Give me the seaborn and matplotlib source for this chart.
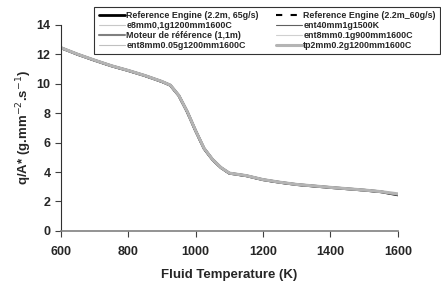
import numpy as np
import pandas as pd
import seaborn as sns
import matplotlib.pyplot as plt

# fluid temperature (K) and q/A* for each run
temp = [600, 650, 700, 750, 800, 850, 900, 925, 950, 975, 1000, 1025, 1050,
        1075, 1100, 1150, 1200, 1250, 1300, 1350, 1400, 1450, 1500, 1550, 1600]

ref_65 = [12.45, 12.00, 11.60, 11.22, 10.90, 10.55, 10.15, 9.90, 9.20, 8.10, 6.80, 5.60,
          4.85, 4.30, 3.92, 3.75, 3.48, 3.30, 3.15, 3.05, 2.95, 2.86, 2.77, 2.66, 2.45]
ref_60 = [12.44, 11.99, 11.59, 11.21, 10.89, 10.54, 10.14, 9.88, 9.18, 8.08, 6.78, 5.58,
          4.84, 4.29, 3.91, 3.74, 3.47, 3.29, 3.14, 3.04, 2.94, 2.85, 2.76, 2.65, 2.47]
e8_01 = [12.47, 12.02, 11.62, 11.24, 10.92, 10.57, 10.17, 9.92, 9.23, 8.13, 6.83, 5.63,
         4.88, 4.32, 3.94, 3.77, 3.50, 3.32, 3.17, 3.07, 2.97, 2.88, 2.79, 2.68, 2.50]
ent40 = [12.46, 12.01, 11.61, 11.23, 10.91, 10.56, 10.16, 9.91, 9.21, 8.11, 6.81, 5.61,
         4.86, 4.31, 3.93, 3.76, 3.49, 3.31, 3.16, 3.06, 2.96, 2.87, 2.78, 2.67, 2.48]
moteur = [12.43, 11.98, 11.58, 11.20, 10.88, 10.53, 10.13, 9.89, 9.22, 8.14, 6.84, 5.64,
          4.89, 4.33, 3.90, 3.73, 3.46, 3.28, 3.13, 3.03, 2.93, 2.84, 2.75, 2.64, 2.46]
ent8_01 = [12.46, 12.01, 11.61, 11.23, 10.91, 10.56, 10.16, 9.91, 9.21, 8.11, 6.81, 5.61,
           4.86, 4.31, 3.93, 3.76, 3.49, 3.31, 3.16, 3.06, 2.96, 2.87, 2.78, 2.67, 2.50]
ent8_005 = [12.47, 12.02, 11.62, 11.24, 10.92, 10.57, 10.17, 9.92, 9.22, 8.12, 6.82, 5.62,
            4.87, 4.32, 3.94, 3.77, 3.50, 3.32, 3.17, 3.07, 2.97, 2.88, 2.79, 2.68, 2.51]
tp2 = [12.46, 12.01, 11.61, 11.23, 10.91, 10.56, 10.16, 9.91, 9.21, 8.11, 6.81, 5.61,
       4.86, 4.31, 3.93, 3.76, 3.49, 3.31, 3.16, 3.06, 2.96, 2.87, 2.78, 2.67, 2.52]

labels = ['Reference Engine (2.2m, 65g/s)', 'Reference Engine (2.2m_60g/s)',
          'e8mm0,1g1200mm1600C', 'ent40mm1g1500K',
          'Moteur de référence (1,1m)', 'ent8mm0.1g900mm1600C',
          'ent8mm0.05g1200mm1600C', 'tp2mm0.2g1200mm1600C']
series = [ref_65, ref_60, e8_01, ent40, moteur, ent8_01, ent8_005, tp2]
colors = ['black', 'black', '#c8c8c8', '#606060', '#808080', '#d0d0d0', '#c0c0c0', '#b4b4b4']
widths = [2.0, 1.5, 0.8, 0.8, 1.5, 0.8, 0.8, 2.2]
styles = ['-', (0, (3, 4)), '-', '-', '-', '-', '-', '-']

sns.set_style("ticks")
plt.rcParams['font.family'] = ['Liberation Sans', 'DejaVu Sans']

fig = plt.figure(figsize=(4.41, 2.84), dpi=100)
ax = fig.add_axes([0.138, 0.187, 0.764, 0.725])

df = pd.DataFrame({'temp': temp})
for lab, ys, c, w, ls in zip(labels, series, colors, widths, styles):
    df[lab] = ys
    sns.lineplot(data=df, x='temp', y=lab, ax=ax, color=c, linewidth=w,
                 linestyle=ls, label=lab, legend=False)

ax.set_xlim(600, 1600)
ax.set_ylim(0, 14)
ax.set_xticks(range(600, 1601, 200))
ax.set_yticks(range(0, 15, 2))
ax.tick_params(labelsize=9, length=4, width=0.8, color='#404040')
ax.tick_params(axis='x', pad=7)
for t in ax.get_xticklabels() + ax.get_yticklabels():
    t.set_fontweight('bold')
ax.set_xlabel('Fluid Temperature (K)', fontsize=9.5, fontweight='bold', labelpad=8)
ax.set_ylabel('q/A* (g.mm$^{-2}$.s$^{-1}$)', fontsize=9.5, fontweight='bold', labelpad=2)
ax.spines['top'].set_visible(False)
ax.spines['right'].set_visible(False)
ax.spines['left'].set_color('#303030')
ax.spines['bottom'].set_color('#808080')
ax.spines['bottom'].set_linewidth(1.2)

handles, labs = ax.get_legend_handles_labels()
order = [0, 2, 4, 6, 1, 3, 5, 7]
leg = fig.legend([handles[i] for i in order], [labs[i] for i in order], ncol=2,
                 loc='upper right', bbox_to_anchor=(0.998, 0.977),
                 frameon=True, fancybox=False, edgecolor='black', handlelength=3.0,
                 handletextpad=0.1, columnspacing=1.9, labelspacing=0.1,
                 borderpad=0.5, borderaxespad=0.0,
                 prop={'weight': 'bold', 'size': 6.4})
leg.get_frame().set_linewidth(0.8)
leg.set_zorder(5)

fig.savefig('out.png', dpi=100)
